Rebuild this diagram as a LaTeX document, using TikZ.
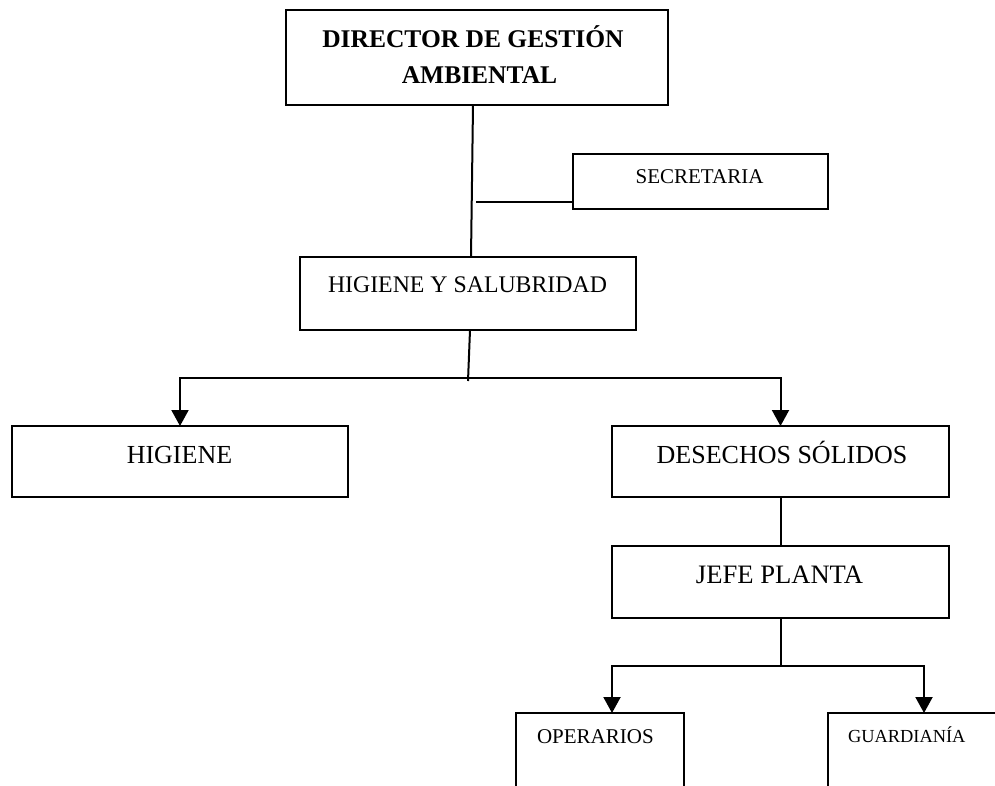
\documentclass[tikz,border=0pt]{standalone}
\usepackage{fontspec}
\setmainfont{Liberation Serif}
\usetikzlibrary{arrows.meta,calc}

\tikzset{
  box/.style={draw=black, line width=2.2pt, rectangle, inner sep=0pt, outer sep=0pt},
  lbl/.style={inner sep=0pt, outer sep=0pt, anchor=base, text=black},
  link/.style={draw=black, line width=2pt},
  arr/.style={link, -{Triangle[width=17pt,length=16pt]}},
}

\begin{document}
\begin{tikzpicture}[x=1pt, y=-1pt]
  \useasboundingbox (0,0) rectangle (995,785);
  \clip (0,0) rectangle (995,785);

  % boxes
  \node[box, minimum width=382pt, minimum height=95pt] (dir) at (477,57.5) {};
  \node[box, minimum width=255pt, minimum height=55pt] (sec) at (700.5,181.5) {};
  \node[box, minimum width=336pt, minimum height=73pt] (hys) at (468,293.5) {};
  \node[box, minimum width=336pt, minimum height=71pt] (hig) at (180,461.5) {};
  \node[box, minimum width=337pt, minimum height=71pt] (des) at (780.5,461.5) {};
  \node[box, minimum width=337pt, minimum height=72pt] (jefe) at (780.5,582) {};
  \node[box, minimum width=168pt, minimum height=107pt] (ope) at (600,766.5) {};
  \node[box, minimum width=192pt, minimum height=107pt] (gua) at (924,766.5) {};

  % labels
  \node[lbl, font=\bfseries\fontsize{25.5}{30}\selectfont] (t-dir1) at (473,47) {DIRECTOR DE GESTIÓN};
  \node[lbl, font=\bfseries\fontsize{25.5}{30}\selectfont] (t-dir2) at (479.5,83) {AMBIENTAL};
  \node[lbl, font=\fontsize{21}{25}\selectfont] (t-sec) at (699.5,183) {SECRETARIA};
  \node[lbl, font=\fontsize{23.8}{28}\selectfont] (t-hys) at (467.5,292) {HIGIENE Y SALUBRIDAD};
  \node[lbl, font=\fontsize{26}{30}\selectfont] (t-hig) at (179.5,463) {HIGIENE};
  \node[lbl, font=\fontsize{26}{30}\selectfont] (t-des) at (782,463) {DESECHOS SÓLIDOS};
  \node[lbl, font=\fontsize{26.6}{30}\selectfont] (t-jefe) at (779.5,583) {JEFE PLANTA};
  \node[lbl, anchor=base west, font=\fontsize{21}{25}\selectfont] (t-ope) at (537,743) {OPERARIOS};
  \node[lbl, anchor=base west, font=\fontsize{18.4}{22}\selectfont] (t-gua) at (848,742) {GUARDIANÍA};

  % junction points
  \coordinate (jsec) at (476,202);
  \coordinate (jend) at (468,381);
  \coordinate (bar) at (469,378);
  \coordinate (bar2) at (780.5,666);

  % connectors
  \draw[link] ($(dir.south)+(-4,0)$) -- ($(hys.north)+(3,0)$);
  \draw[link] (jsec) -- (sec.west |- jsec);
  \draw[link] ($(hys.south)+(2,0)$) -- (jend);
  \draw[arr] (bar) -| (hig.north);
  \draw[arr] (bar) -| (des.north);
  \draw[link] (des.south) -- (jefe.north);
  \draw[link] (jefe.south) -- (bar2);
  \draw[arr] (bar2) -| ($(ope.north)+(12,0)$);
  \draw[arr] (bar2) -| (gua.north);
\end{tikzpicture}
\end{document}
